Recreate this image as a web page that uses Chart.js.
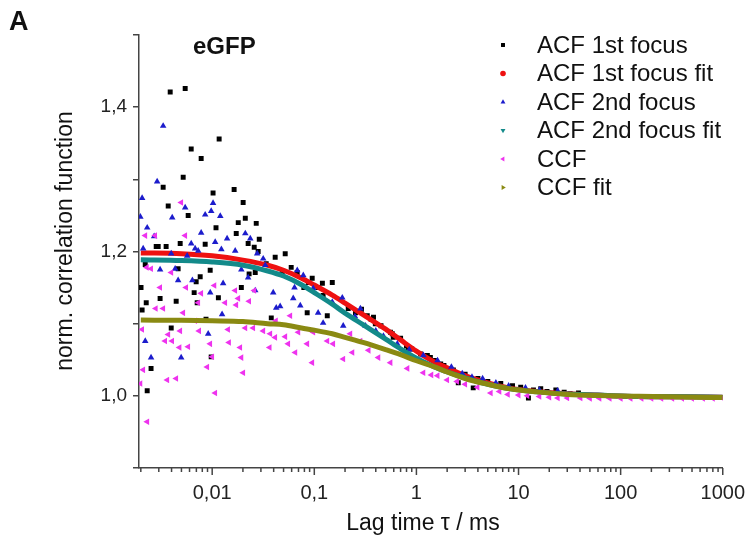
<!DOCTYPE html>
<html>
<head>
<meta charset="utf-8">
<script src="https://cdn.jsdelivr.net/npm/chart.js@4.4.1/dist/chart.umd.min.js"></script>
<style>
  html, body { margin: 0; padding: 0; background: #fff; }
</style>
</head>
<body>
<canvas id="chart" width="750" height="554"></canvas>
<script>
// lag times (ms) and normalized correlation values
const acf1Tau = [0.00201, 0.00206, 0.00221, 0.00226, 0.00231, 0.00252, 0.00283, 0.00296, 0.00309, 0.00331,
  0.00354, 0.00371, 0.00388, 0.00397, 0.00444, 0.00464, 0.00486, 0.0052, 0.00544, 0.00582,
  0.00623, 0.00666, 0.00697, 0.00713, 0.00763, 0.0078, 0.00854, 0.0087, 0.00956, 0.00978,
  0.0102, 0.0109, 0.0115, 0.0117, 0.0164, 0.0172, 0.018, 0.0193, 0.0201, 0.0211,
  0.0225, 0.023, 0.0258, 0.0264, 0.027, 0.0282, 0.0289, 0.0338, 0.0379, 0.0414,
  0.0485, 0.0519, 0.0594, 0.068, 0.079, 0.0852, 0.0875, 0.0954, 0.109, 0.12,
  0.122, 0.134, 0.15, 0.215, 0.253, 0.29, 0.33, 0.36, 0.38, 0.396,
  0.45, 0.557, 0.58, 0.593, 0.7, 0.8, 0.835, 0.9, 1.1, 1.28,
  1.37, 1.5, 1.73, 1.86, 2.0, 2.3, 2.57, 3.0, 3.6, 4.0,
  5.0, 6.7, 8.73, 10.5, 12.5, 14, 16.5, 19, 23.2, 28, 32, 38.6];
const acf1G = [1.150, 1.119, 1.182, 1.129, 1.007, 1.038, 1.207, 1.207, 1.135, 1.289,
  1.207, 1.263, 1.421, 1.094, 1.131, 1.176, 1.211, 1.303, 1.426, 1.250,
  1.342, 1.143, 1.158, 1.129, 1.165, 1.329, 1.210, 1.106, 1.174, 1.054,
  1.281, 1.233, 1.136, 1.356, 1.286, 1.225, 1.240, 1.150, 1.268, 1.246,
  1.211, 1.169, 1.206, 1.171, 1.239, 1.200, 1.217, 1.183, 1.108, 1.192,
  1.171, 1.197, 1.178, 1.171, 1.150, 1.115, 1.157, 1.163, 1.150, 1.156,
  1.139, 1.111, 1.157, 1.121, 1.115, 1.120, 1.111, 1.106, 1.109, 1.100,
  1.097, 1.088, 1.086, 1.081, 1.080, 1.069, 1.067, 1.065, 1.058, 1.056,
  1.053, 1.049, 1.044, 1.042, 1.038, 1.036, 1.018, 1.030, 1.011, 1.024,
  1.020, 1.017, 1.014, 1.012, 0.997, 1.008, 1.010, 1.006, 1.008, 1.005, 1.003, 1.004];

const acf2Tau = [0.00198, 0.00206, 0.00211, 0.00221, 0.00231, 0.00252, 0.0027, 0.00289, 0.00309, 0.00331,
  0.00397, 0.00406, 0.00434, 0.00464, 0.00497, 0.00544, 0.00569, 0.00623, 0.0064, 0.00681,
  0.00729, 0.0078, 0.00854, 0.00914, 0.00956, 0.00978, 0.0102, 0.0107, 0.012, 0.0123,
  0.0125, 0.0128, 0.014, 0.0168, 0.0193, 0.0211, 0.0225, 0.0236, 0.0264, 0.0276,
  0.0316, 0.0331, 0.0396, 0.0424, 0.0463, 0.0622, 0.064, 0.0681, 0.0729, 0.078,
  0.0976, 0.109, 0.122, 0.15, 0.188, 0.192, 0.25, 0.283, 0.317, 0.4,
  0.475, 0.65, 0.85, 1.17, 1.61, 2.2, 2.81, 3.5, 4.45, 6,
  8, 11.7, 16, 24.2];
const acf2G = [1.248, 1.274, 1.204, 1.076, 1.233, 1.053, 1.221, 1.297, 1.175, 1.374,
  1.197, 1.247, 1.176, 1.160, 1.053, 1.261, 1.194, 1.211, 1.160, 1.204,
  1.201, 1.226, 1.251, 1.086, 1.143, 1.256, 1.267, 1.213, 1.249, 1.203,
  1.113, 1.156, 1.218, 1.201, 1.175, 1.225, 1.164, 1.218, 1.146, 1.197,
  1.190, 1.181, 1.143, 1.122, 1.124, 1.135, 1.150, 1.174, 1.125, 1.167,
  1.149, 1.115, 1.101, 1.130, 1.136, 1.097, 1.110, 1.121, 1.097, 1.090,
  1.083, 1.072, 1.064, 1.056, 1.049, 1.040, 1.031, 1.026, 1.024, 1.018,
  1.014, 1.011, 1.008, 1.007];

const ccfTau = [0.00198, 0.00206, 0.00211, 0.00221, 0.00229, 0.00231, 0.00252, 0.00276, 0.0028, 0.00309,
  0.00331, 0.00346, 0.00363, 0.00371, 0.00397, 0.00405, 0.00444, 0.00478, 0.00486, 0.00497,
  0.0052, 0.00544, 0.00555, 0.00582, 0.00681, 0.00729, 0.00745, 0.0078, 0.00893, 0.00956,
  0.01, 0.0105, 0.0107, 0.0134, 0.0143, 0.0146, 0.0168, 0.0172, 0.018, 0.0188,
  0.0193, 0.0201, 0.0211, 0.023, 0.0252, 0.0258, 0.0316, 0.0365, 0.037, 0.0414,
  0.042, 0.0519, 0.0555, 0.0581, 0.0651, 0.0697, 0.0852, 0.0954, 0.0976, 0.134,
  0.153, 0.192, 0.225, 0.236, 0.283, 0.34, 0.424, 0.557, 0.816, 1.17,
  1.4, 1.61, 2.0, 2.5, 3.0, 3.96, 5.34, 6.5, 7.86, 10,
  12.2, 16, 20, 24.2, 30, 40.4, 50, 62, 78, 100,
  125, 160, 200, 250, 320, 400, 500, 640, 800, 1000];
const ccfG = [1.017, 1.092, 1.036, 1.222, 1.178, 0.964, 1.176, 1.222, 1.121, 1.150,
  1.121, 1.076, 1.022, 1.085, 1.171, 1.076, 1.024, 1.067, 1.090, 1.268,
  1.115, 1.222, 1.150, 1.068, 1.104, 1.129, 1.090, 1.142, 1.040, 1.072,
  1.054, 1.153, 1.004, 1.129, 1.092, 1.074, 1.146, 1.126, 1.135, 1.067,
  1.053, 1.032, 1.094, 1.131, 1.094, 1.146, 1.090, 1.067, 1.086, 1.081,
  1.104, 1.082, 1.072, 1.111, 1.060, 1.088, 1.072, 1.046, 1.088, 1.076,
  1.072, 1.051, 1.086, 1.060, 1.076, 1.063, 1.053, 1.046, 1.038, 1.032,
  1.029, 1.028, 1.022, 1.020, 1.016, 1.012, 1.004, 1.006, 1.002, 1.001,
  1.000, 0.999, 0.998, 0.997, 0.997, 0.997, 0.9965, 0.9965, 0.9965, 0.9965,
  0.9965, 0.9965, 0.9965, 0.9965, 0.9965, 0.9965, 0.9965, 0.9965, 0.9965, 0.9965];

// fit curves
const fitTau = [0.002, 0.005, 0.01, 0.02, 0.035, 0.05, 0.075, 0.1, 0.15, 0.2, 0.3, 0.5, 0.7,
  1, 1.5, 2, 3, 5, 8, 15, 30, 60, 150, 400, 1000];
const acf1Fit = [1.198, 1.197, 1.194, 1.188, 1.181, 1.174, 1.163, 1.1535, 1.1396, 1.1285, 1.1125, 1.0924, 1.0775,
  1.062, 1.047, 1.039, 1.028, 1.018, 1.011, 1.006, 1.003, 1.001, 0.999, 0.9986, 0.998];
const acf2Fit = [1.1885, 1.1875, 1.1855, 1.181, 1.173, 1.166, 1.154, 1.143, 1.127, 1.1146, 1.0986, 1.0785, 1.065,
  1.052, 1.040, 1.033, 1.025, 1.016, 1.010, 1.0055, 1.0025, 1.001, 0.999, 0.9986, 0.998];
const ccfFit = [1.105, 1.1046, 1.104, 1.103, 1.100, 1.0986, 1.094, 1.091, 1.086, 1.081, 1.074, 1.064, 1.057,
  1.0486, 1.040, 1.033, 1.024, 1.016, 1.010, 1.0055, 1.002, 1.0004, 0.9993, 0.9983, 0.9976];

const seriesNames = ['ACF 1st focus', 'ACF 1st focus fit', 'ACF 2nd focus', 'ACF 2nd focus fit', 'CCF', 'CCF fit'];
const xMajorTicks = [0.01, 0.1, 1, 10, 100, 1000];
const xTickLabels = ['0,01', '0,1', '1', '10', '100', '1000'];
const yLabelTicks = [1.0, 1.2, 1.4];

const FONT = '"Liberation Sans", Arial, sans-serif';
const pairs = (xs, ys) => xs.map((x, i) => ({ x, y: ys[i] }));

function scatterSet(label, xs, ys, color, style, rot, r) {
  return {
    type: 'scatter', label, data: pairs(xs, ys),
    pointStyle: style, pointRotation: rot, pointRadius: r, pointBorderWidth: 0,
    backgroundColor: color, borderColor: color
  };
}
function fitSet(label, ys, color, style, rot) {
  return {
    type: 'line', label, data: pairs(fitTau, ys),
    borderColor: color, backgroundColor: color, borderWidth: 5, pointRadius: 0,
    pointStyle: style, pointRotation: rot, cubicInterpolationMode: 'monotone', fill: false
  };
}

const datasets = [
  scatterSet(seriesNames[0], acf1Tau, acf1G, '#000000', 'rect', 0, 3.5),
  fitSet(seriesNames[1], acf1Fit, '#ee1111', 'circle', 0),
  scatterSet(seriesNames[2], acf2Tau, acf2G, '#1c1ccc', 'triangle', 0, 3.8),
  fitSet(seriesNames[3], acf2Fit, '#138a8a', 'triangle', 180),
  scatterSet(seriesNames[4], ccfTau, ccfG, '#ee33ee', 'triangle', 270, 3.8),
  fitSet(seriesNames[5], ccfFit, '#8a8a12', 'triangle', 90)
];
// later series drawn on top, like the original plot
datasets.forEach((d, i) => { d.order = datasets.length - i; });

const overlay = {
  id: 'overlay',
  afterDraw(chart) {
    const c = chart.ctx;
    const xs = chart.scales.x;
    c.save();
    // log-axis tick marks, long at decades
    c.strokeStyle = '#444';
    c.lineWidth = 1.5;
    xs.ticks.forEach(t => {
      const px = xs.getPixelForValue(t.value);
      const major = xMajorTicks.some(v => Math.abs(v - t.value) / v < 1e-6);
      c.beginPath();
      c.moveTo(px, xs.top);
      c.lineTo(px, xs.top + (major ? 7 : 4));
      c.stroke();
    });
    // legend inside the plot
    c.font = '24px ' + FONT;
    c.textBaseline = 'middle';
    c.textAlign = 'left';
    chart.data.datasets.forEach((ds, i) => {
      const y = 45 + i * 28.5;
      c.fillStyle = ds.backgroundColor;
      Chart.helpers.drawPoint(c, { pointStyle: ds.pointStyle, rotation: ds.pointRotation, radius: 2.8, borderWidth: 0 }, 503, y);
      c.fillStyle = '#111';
      c.fillText(ds.label, 537, y + 1);
    });
    // axis titles
    c.font = '23px ' + FONT;
    c.textAlign = 'center';
    c.fillText('Lag time \u03c4 / ms', 423, 524);
    c.save();
    c.translate(66, 241);
    c.rotate(-Math.PI / 2);
    c.fillText('norm. correlation function', 0, 0);
    c.restore();
    // panel letter and sample name
    c.textAlign = 'left';
    c.font = 'bold 27px ' + FONT;
    c.fillText('A', 9, 23);
    c.font = 'bold 24px ' + FONT;
    c.fillText('eGFP', 193, 47);
    c.restore();
  }
};

new Chart(document.getElementById('chart'), {
  data: { datasets },
  options: {
    responsive: false,
    animation: false,
    layout: { padding: { top: 35, right: 19, left: 0, bottom: 0 } },
    plugins: { legend: { display: false }, tooltip: { enabled: false } },
    scales: {
      x: {
        type: 'logarithmic', min: 0.00192, max: 1000,
        grid: { display: false },
        border: { display: true, color: '#444', width: 1.5 },
        afterBuildTicks: (scale) => {
          const t = [];
          xMajorTicks.forEach(d => {
            for (let m = 1; m <= 9; m++) {
              const v = d / 10 * m;
              if (v >= scale.min && v <= scale.max * 1.0001) t.push({ value: v });
            }
          });
          t.push({ value: 1000 });
          scale.ticks = t.filter((v, i, a) => a.findIndex(o => Math.abs(o.value - v.value) / v.value < 1e-6) === i);
        },
        afterFit: (scale) => { scale.height = 86; },
        ticks: {
          autoSkip: false, maxRotation: 0, padding: 5, color: '#222',
          font: { family: FONT, size: 20 },
          callback: (value) => {
            const idx = xMajorTicks.findIndex(v => Math.abs(v - value) / v < 1e-6);
            return idx >= 0 ? xTickLabels[idx] : '';
          }
        }
      },
      y: {
        min: 0.9, max: 1.5,
        grid: { drawOnChartArea: false, tickLength: 6, color: '#444', lineWidth: 1.5 },
        border: { display: true, color: '#444', width: 1.5 },
        afterFit: (scale) => { scale.width = 139; },
        ticks: {
          stepSize: 0.1, padding: 6, color: '#222',
          font: { family: FONT, size: 19 },
          callback: (value) => yLabelTicks.some(v => Math.abs(v - value) < 1e-6)
            ? value.toFixed(1).replace('.', ',') : ''
        }
      }
    }
  },
  plugins: [overlay]
});
</script>
</body>
</html>
